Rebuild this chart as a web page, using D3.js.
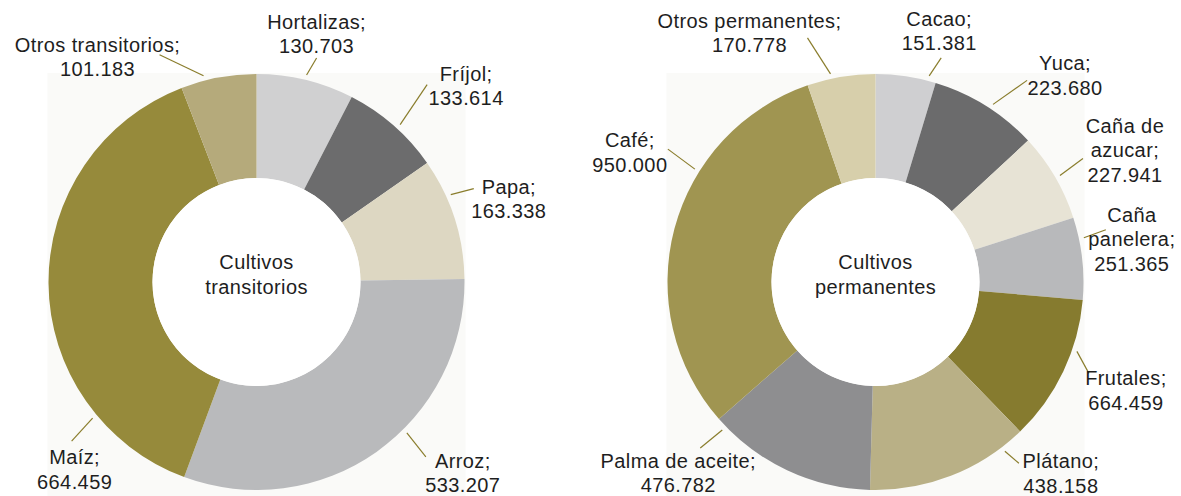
<!DOCTYPE html>
<html>
<head>
<meta charset="utf-8">
<script src="https://cdn.jsdelivr.net/npm/d3@7"></script>
<style>
  body { margin: 0; background: #fff; }
  svg text { font-family: 'Liberation Sans', Arial, sans-serif; font-size: 20px; fill: #1e1e1e; letter-spacing: 0.4px; }
</style>
</head>
<body>
<svg id="chart" width="1181" height="496"></svg>
<script>
// Cultivos transitorios (printed values, the ring matches them)
const transNames = ['Hortalizas', 'Fríjol', 'Papa', 'Arroz', 'Maíz', 'Otros transitorios'];
const transValues = [130.703, 133.614, 163.338, 533.207, 664.459, 101.183];
const transColors = ['#d0d0d1', '#6c6c6d', '#ddd7c2', '#b9babc', '#968a3b', '#b5aa7b'];

// Cultivos permanentes: printed labels, and the ring sizes as drawn in the picture
const permNames = ['Cacao', 'Yuca', 'Caña de azucar', 'Caña panelera', 'Frutales', 'Plátano', 'Palma de aceite', 'Café', 'Otros permanentes'];
const permLabels = ['151.381', '223.680', '227.941', '251.365', '664.459', '438.158', '476.782', '950.000', '170.778'];
const permValues = [166, 300, 245, 227, 405, 450, 467, 1108, 188];
const permColors = ['#cfcfd1', '#6b6b6c', '#e7e3d5', '#b8b9bb', '#867b2f', '#b9b086', '#8e8e90', '#a09551', '#d7cfab'];

// label text lines (split like in the source)
const transText = [['Hortalizas;'], ['Fríjol;'], ['Papa;'], ['Arroz;'], ['Maíz;'], ['Otros transitorios;']];
const permText = [['Cacao;'], ['Yuca;'], ['Caña de', 'azucar;'], ['Caña', 'panelera;'], ['Frutales;'], ['Plátano;'], ['Palma de aceite;'], ['Café;'], ['Otros permanentes;']];

// leader layout: angle on the ring (deg), outer end offset, text offset from outer end
const transLeaders = [
  { a: 13.6, o: [10, -17], t: [0, -29] },
  { a: 42.4, o: [27, -40], t: [39, -4] },
  { a: 65.8, o: [23, -6], t: [35, 5] },
  { a: 135.1, o: [19, 24], t: [37, 11] },
  { a: 230.3, o: [-21, 23], t: [3, 23] },
  { a: 345.6, o: [-44, -21], t: [-62, -3] }
];
const permLeaders = [
  { a: 14.6, o: [12, -18], t: [-2, -32] },
  { a: 33.5, o: [34, -24], t: [38, -10] },
  { a: 60, o: [23, -17], t: [42, -26] },
  { a: 78, o: [22, -8], t: [26, -8] },
  { a: 109, o: [12, 22], t: [37, 12] },
  { a: 142.6, o: [14, 12], t: [42, 5] },
  { a: 226, o: [-22, 18], t: [-22, 20] },
  { a: 302, o: [-27, -20], t: [-38, -2] },
  { a: 347.8, o: [-23, -36], t: [-58, -10] }
];

const svg = d3.select('#chart');
const R = 208;
const r0 = 104;
const lineH = 24.5;

const drawDonut = (cx, cy, values, colors, lines, numbers, leaders, centerText) => {
  const g = svg.append('g').attr('transform', `translate(${cx},${cy})`);

  // faint plot background
  g.append('rect')
    .attr('x', -R - 1).attr('y', -R - 1)
    .attr('width', 2 * R + 2).attr('height', 496 - cy + R + 1)
    .attr('fill', '#fafaf8');

  const pie = d3.pie().sort(null).value(d => d);
  const arc = d3.arc().innerRadius(r0).outerRadius(R);
  g.selectAll('path.slice')
    .data(pie(values))
    .join('path')
    .attr('class', 'slice')
    .attr('d', arc)
    .attr('fill', (d, i) => colors[i]);

  g.append('circle').attr('r', r0).attr('fill', '#fff');

  centerText.forEach((t, i) => {
    g.append('text')
      .attr('text-anchor', 'middle')
      .attr('x', 0)
      .attr('y', -13 + i * 25)
      .text(t);
  });

  leaders.forEach((l, i) => {
    const rad = l.a * Math.PI / 180;
    const x1 = Math.sin(rad) * (R + 5);
    const y1 = -Math.cos(rad) * (R + 5);
    const x2 = x1 + l.o[0];
    const y2 = y1 + l.o[1];
    g.append('line')
      .attr('x1', x1).attr('y1', y1)
      .attr('x2', x2).attr('y2', y2)
      .attr('stroke', '#8a7d2c')
      .attr('stroke-width', 1.2);

    const rows = lines[i].concat([numbers[i]]);
    const tx = x2 + l.t[0];
    const ty = y2 + l.t[1];
    const text = g.append('text').attr('text-anchor', 'middle');
    rows.forEach((row, j) => {
      text.append('tspan')
        .attr('x', tx)
        .attr('y', ty + j * lineH)
        .text(row);
    });
  });
};

drawDonut(256.5, 282, transValues, transColors, transText,
  transValues.map(v => v.toFixed(3)), transLeaders, ['Cultivos', 'transitorios']);
drawDonut(875.5, 282, permValues, permColors, permText,
  permLabels, permLeaders, ['Cultivos', 'permanentes']);
</script>
</body>
</html>
